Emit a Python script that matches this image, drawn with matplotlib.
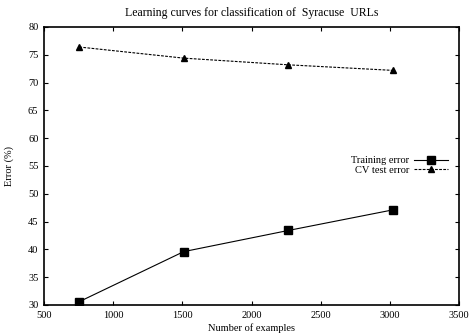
import matplotlib.pyplot as plt

# data
n_examples = [755, 1510, 2265, 3020]
train_err = [30.6, 39.6, 43.4, 47.1]
cv_err = [76.4, 74.4, 73.2, 72.2]

plt.rcParams['font.family'] = ['Liberation Serif', 'DejaVu Serif']

fig = plt.figure(figsize=(4.71, 3.34), dpi=100)
ax = fig.add_axes([44 / 471, 29 / 334, 415 / 471, 278 / 334])

ax.plot(n_examples, train_err, color='black', linewidth=0.8, marker='s',
        markersize=5.5, label='Training error')
ax.plot(n_examples, cv_err, color='black', linewidth=0.8, linestyle=(0, (2.5, 1.2)),
        marker='^', markersize=4.8, label='CV test error')

ax.set_xlim(500, 3500)
ax.set_ylim(30, 80)
ax.set_xticks(range(500, 3501, 500))
ax.set_yticks(range(30, 81, 5))
ax.tick_params(direction='in', length=3, width=0.8, top=True, right=True,
               labelsize=7.5, pad=4)
for s in ax.spines.values():
    s.set_linewidth(1.2)

ax.set_title('Learning curves for classification of  Syracuse  URLs', fontsize=8.5, pad=8)
ax.set_xlabel('Number of examples', fontsize=7.5, labelpad=3)
ax.set_ylabel('Error (%)', fontsize=7.5, labelpad=10)

ax.legend(loc='upper right', bbox_to_anchor=(0.985, 0.555), frameon=False,
          markerfirst=False, fontsize=7.5, handlelength=3.2, handletextpad=0.5,
          labelspacing=0.05, borderpad=0)

fig.savefig('out.png', dpi=100)
